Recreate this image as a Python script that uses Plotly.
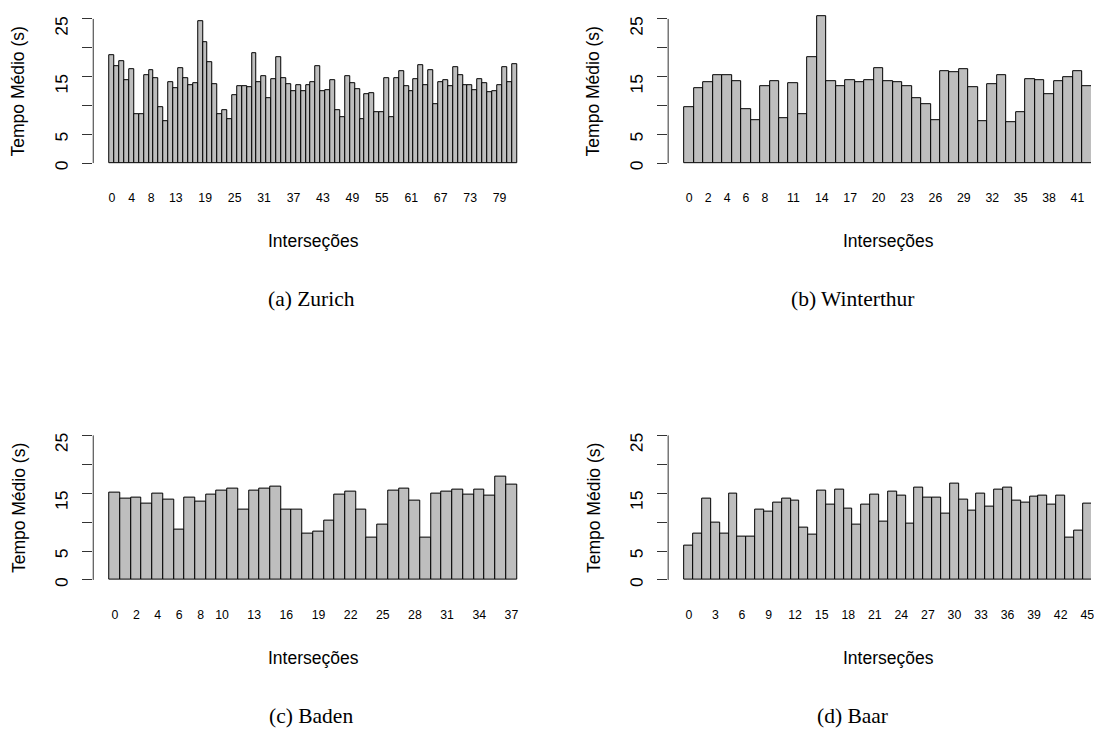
import plotly.graph_objects as go

# ---------------- data ----------------
zurich = [18.8, 16.8, 17.6, 14.3, 16.3, 8.5, 8.4, 15.3, 16.1, 14.8,
          9.7, 7.3, 14.1, 13.0, 16.5, 14.7, 13.6, 13.8, 24.7, 20.9,
          17.5, 13.7, 8.5, 9.1, 7.7, 11.8, 13.4, 13.4, 13.2, 19.1,
          14.1, 15.0, 11.2, 14.6, 18.3, 14.7, 13.7, 12.4, 13.5, 12.5,
          13.5, 14.1, 16.8, 12.5, 12.7, 14.4, 9.25, 8.0, 15.1, 13.9,
          12.8, 7.6, 11.9, 12.2, 8.8, 8.85, 14.7, 8.0, 14.8, 15.9,
          13.3, 12.5, 14.5, 17.0, 13.5, 16.2, 10.3, 14.1, 14.3, 13.4,
          16.7, 15.3, 13.5, 13.5, 12.7, 14.6, 13.9, 12.3, 12.5, 13.5,
          16.6, 14.1, 17.1]
winterthur = [9.65, 12.95, 14.1, 15.2, 15.2, 14.2, 9.4, 7.4, 13.4, 14.2,
              7.8, 13.9, 8.55, 18.4, 25.45, 14.2, 13.3, 14.4, 14.1, 14.4,
              16.4, 14.2, 14.05, 13.3, 11.3, 10.3, 7.45, 16.0, 15.8, 16.25,
              13.1, 7.35, 13.65, 15.2, 7.05, 8.85, 14.6, 14.4, 12.0, 14.2,
              14.9, 16.0, 13.4]
baden = [15.08, 14.0, 14.3, 13.2, 14.97, 13.9, 8.75, 14.3, 13.5, 14.7,
         15.4, 15.8, 12.15, 15.5, 15.8, 16.1, 12.2, 12.1, 7.95, 8.35,
         10.3, 14.8, 15.25, 12.15, 7.37, 9.5, 15.5, 15.8, 13.8, 7.3,
         14.97, 15.25, 15.6, 14.75, 15.7, 14.55, 17.8, 16.5]
baar = [6.0, 8.06, 14.05, 9.96, 8.06, 15.0, 7.5, 7.43, 12.2, 11.8,
        13.35, 14.05, 13.65, 9.04, 7.9, 15.5, 13.1, 15.6, 12.3, 9.56,
        12.95, 14.7, 10.07, 15.2, 14.57, 9.67, 15.95, 14.16, 14.2, 11.46,
        16.64, 13.87, 12.03, 14.9, 12.67, 15.66, 15.9, 13.8, 13.36, 14.4,
        14.57, 13.0, 14.5, 7.3, 8.46, 13.24]

ticks_zurich = [0, 4, 8, 13, 19, 25, 31, 37, 43, 49, 55, 61, 67, 73, 79]
ticks_winterthur = [0, 2, 4, 6, 8, 11, 14, 17, 20, 23, 26, 29, 32, 35, 38, 41]
ticks_baden = [0, 2, 4, 6, 8, 10, 13, 16, 19, 22, 25, 28, 31, 34, 37]
ticks_baar = [0, 3, 6, 9, 12, 15, 18, 21, 24, 27, 30, 33, 36, 39, 42, 45]

y_tickvals = [0, 5, 10, 15, 20, 25]
y_ticktext = ["0", "5", "", "15", "", "25"]

captions = ["(a) Zurich", "(b) Winterthur", "(c) Baden", "(d) Baar"]
ylabel = "Tempo Médio (s)"
xlabel = "Interseções"

# ---------------- layout geometry (pixels) ----------------
W, H = 1094, 729
SANS = "Liberation Sans, Arial, sans-serif"
SERIF = "Liberation Serif, Times New Roman, serif"

panels = [
    dict(data=zurich, ticks=ticks_zurich, left=93.5, top=13.2, bottom=169.1, cap=captions[0]),
    dict(data=winterthur, ticks=ticks_winterthur, left=670, top=13.2, bottom=169.1, cap=captions[1]),
    dict(data=baden, ticks=ticks_baden, left=93.5, top=430.2, bottom=586.5, cap=captions[2]),
    dict(data=baar, ticks=ticks_baar, left=670, top=430.2, bottom=586.5, cap=captions[3]),
]
PLOT_W = 441.0  # full R plot region width (may be clipped at page edge)

fig = go.Figure()
layout = dict(
    width=W, height=H,
    margin=dict(l=0, r=0, t=0, b=0),
    paper_bgcolor="white", plot_bgcolor="white",
    showlegend=False, bargap=0,
    font=dict(family=SANS, color="black"),
)
annotations = []
shapes = []

for k, p in enumerate(panels, start=1):
    n = len(p["data"])
    xs = list(range(n))
    xa = "x" if k == 1 else f"x{k}"
    ya = "y" if k == 1 else f"y{k}"
    fig.add_trace(go.Bar(
        x=xs, y=p["data"], width=1.0,
        marker=dict(color="#BEBEBE", line=dict(color="black", width=1)),
        xaxis=xa, yaxis=ya, hoverinfo="skip",
    ))
    units_per_px = (n * 1.08) / PLOT_W
    x_left = -0.5 - 0.04 * n
    right_px = min(p["left"] + PLOT_W, W)
    x_right = x_left + (right_px - p["left"]) * units_per_px
    xdom = [p["left"] / W, right_px / W]
    ydom = [(H - p["bottom"]) / H, (H - p["top"]) / H]
    xkey = "xaxis" if k == 1 else f"xaxis{k}"
    ykey = "yaxis" if k == 1 else f"yaxis{k}"
    layout[xkey] = dict(
        domain=xdom, range=[x_left, x_right], anchor=ya,
        showline=False, showgrid=False, zeroline=False,
        tickmode="array", tickvals=p["ticks"], ticktext=[str(t) for t in p["ticks"]],
        ticks="", ticklabelstandoff=20, ticklabeloverflow="allow",
        tickfont=dict(family=SANS, size=12.3, color="black"),
        fixedrange=True,
    )
    layout[ykey] = dict(
        domain=ydom, range=[-1, 26], anchor=xa,
        showline=False, showgrid=False, zeroline=False,
        tickmode="array", tickvals=y_tickvals, ticktext=y_ticktext,
        ticks="outside", ticklen=10, tickwidth=1, tickcolor="#333333",
        tickangle=-89.9, ticklabelstandoff=20,
        tickfont=dict(family=SANS, size=17.5, color="black"),
        fixedrange=True,
    )
    shapes.append(dict(type="line", xref=f"{xa} domain", yref=ya,
                       x0=0, x1=0, y0=0, y1=25,
                       line=dict(color="#333333", width=1)))
    cx = (p["left"] + PLOT_W / 2) / W
    cy = (p["top"] + p["bottom"]) / 2
    annotations.append(dict(text=ylabel, xref="paper", yref="paper",
                            x=(p["left"] - 75) / W, y=(H - cy) / H,
                            textangle=-90, showarrow=False,
                            xanchor="center", yanchor="middle",
                            font=dict(family=SANS, size=17.5, color="black")))
    annotations.append(dict(text=xlabel, xref="paper", yref="paper",
                            x=cx, y=(H - (p["bottom"] + 72)) / H,
                            showarrow=False, xanchor="center", yanchor="middle",
                            font=dict(family=SANS, size=17.5, color="black")))
    capx = 312 if p["left"] < 300 else 855
    annotations.append(dict(text=p["cap"], xref="paper", yref="paper",
                            x=capx / W, y=(H - (p["bottom"] + 130.5)) / H,
                            showarrow=False, xanchor="center", yanchor="middle",
                            font=dict(family=SERIF, size=21.5, color="black")))

layout["annotations"] = annotations
layout["shapes"] = shapes
fig.update_layout(**layout)
fig.write_html("out.html")
